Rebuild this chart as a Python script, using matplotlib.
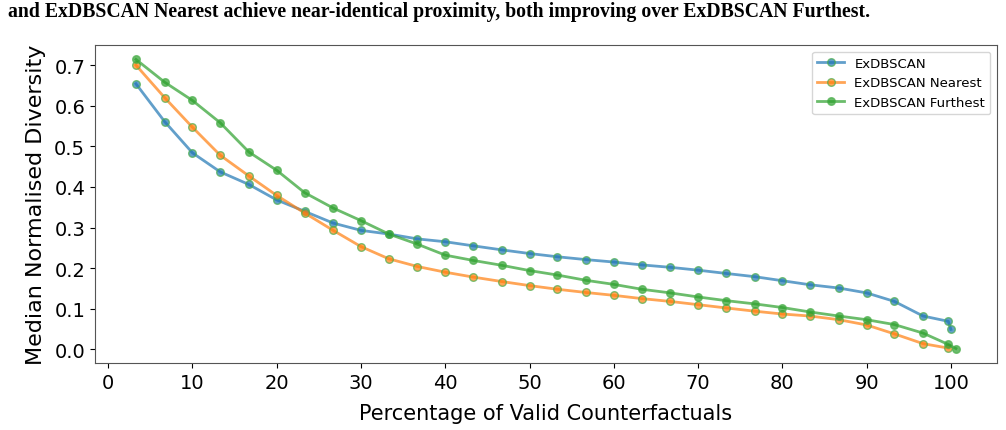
import matplotlib.pyplot as plt

# percentage of valid counterfactuals (x positions)
pct = [3.3, 6.7, 10.0, 13.3, 16.7, 20.0, 23.3, 26.7, 30.0, 33.3,
       36.7, 40.0, 43.3, 46.7, 50.0, 53.3, 56.7, 60.0, 63.3, 66.7,
       70.0, 73.3, 76.7, 80.0, 83.3, 86.7, 90.0, 93.3, 96.7, 99.7]

exdbscan = [0.654, 0.561, 0.484, 0.437, 0.406, 0.368, 0.340, 0.311, 0.293, 0.284,
            0.272, 0.265, 0.255, 0.245, 0.236, 0.228, 0.221, 0.215, 0.208, 0.202,
            0.195, 0.187, 0.179, 0.169, 0.159, 0.151, 0.139, 0.118, 0.082, 0.069]
nearest = [0.700, 0.620, 0.547, 0.478, 0.427, 0.379, 0.336, 0.293, 0.253, 0.223,
           0.204, 0.190, 0.178, 0.167, 0.157, 0.148, 0.140, 0.133, 0.125, 0.118,
           0.110, 0.102, 0.094, 0.087, 0.082, 0.073, 0.060, 0.038, 0.014, 0.003]
furthest = [0.714, 0.658, 0.613, 0.558, 0.486, 0.441, 0.386, 0.348, 0.317, 0.284,
            0.259, 0.232, 0.219, 0.207, 0.194, 0.183, 0.170, 0.160, 0.148, 0.139,
            0.129, 0.120, 0.112, 0.103, 0.092, 0.082, 0.073, 0.061, 0.040, 0.012]

# trailing points at full validity
exdbscan_end_x, exdbscan_end_y = [100.0], [0.049]
furthest_end_x, furthest_end_y = [100.6], [0.002]

fig = plt.figure(figsize=(10.06, 4.31), dpi=100)
ax = fig.add_axes([0.0944, 0.1555, 0.8966, 0.7378])

style = dict(marker="o", markersize=5.5, linewidth=2, alpha=0.7,
             markeredgecolor="#4caf4c", markeredgewidth=1)

ax.plot(pct + exdbscan_end_x, exdbscan + exdbscan_end_y, color="tab:blue",
        label="ExDBSCAN", **style)
ax.plot(pct, nearest, color="tab:orange", label="ExDBSCAN Nearest", **style)
ax.plot(pct + furthest_end_x, furthest + furthest_end_y, color="tab:green",
        label="ExDBSCAN Furthest", **style)

ax.set_xticks(range(0, 101, 10))
ax.set_yticks([0.0, 0.1, 0.2, 0.3, 0.4, 0.5, 0.6, 0.7])
ax.tick_params(labelsize=14)
ax.set_xlabel("Percentage of Valid Counterfactuals", fontsize=15, labelpad=8)
ax.set_ylabel("Median Normalised Diversity", fontsize=16, labelpad=6)
for s in ax.spines.values():
    s.set_color("#555555")
ax.legend(loc="upper right", fontsize=9.5)

fig.text(0.008, 0.972, "and ExDBSCAN Nearest achieve near-identical proximity, "
         "both improving over ExDBSCAN Furthest.",
         fontsize=14.2, fontweight="bold", family="Liberation Serif",
         ha="left", va="center")

fig.savefig("out.png", dpi=100)
